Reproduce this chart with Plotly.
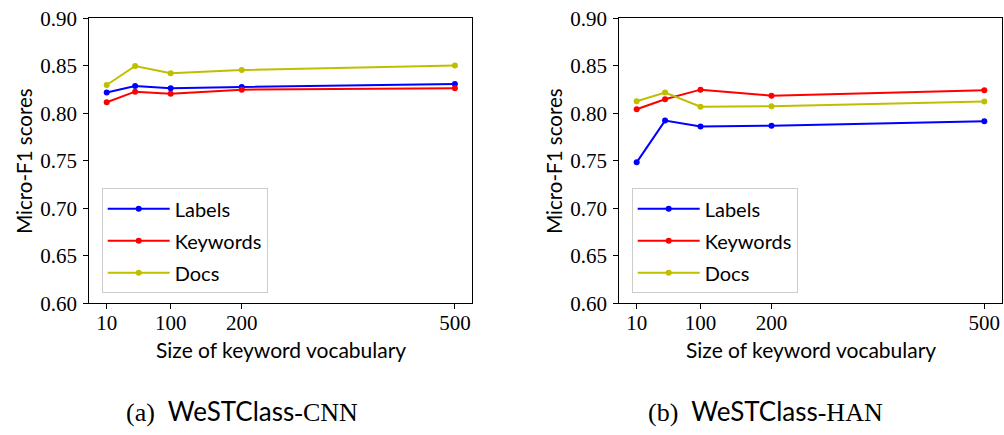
import plotly.graph_objects as go

vocab_sizes = [10, 50, 100, 200, 500]
tick_vals = [10, 100, 200, 500]
tick_text = ["10", "100", "200", "500"]
y_ticks = [0.60, 0.65, 0.70, 0.75, 0.80, 0.85, 0.90]

cnn_labels = [0.8218, 0.8288, 0.8263, 0.8277, 0.8309]
cnn_keywords = [0.8116, 0.8228, 0.8207, 0.8249, 0.8263]
cnn_docs = [0.8298, 0.8498, 0.8421, 0.8456, 0.8502]

han_labels = [0.7484, 0.7923, 0.7860, 0.7870, 0.7916]
han_keywords = [0.8042, 0.8147, 0.8249, 0.8186, 0.8242]
han_docs = [0.8126, 0.8218, 0.8070, 0.8074, 0.8123]

series_names = ["Labels", "Keywords", "Docs"]
colors = ["#0000ff", "#ff0000", "#bfbf00"]

W, H = 1004, 435
SERIF = "Liberation Serif"
SANS = "Lato"

fig = go.Figure()

panels = [
    ([cnn_labels, cnn_keywords, cnn_docs], "x", "y", "legend"),
    ([han_labels, han_keywords, han_docs], "x2", "y2", "legend2"),
]
for data, xa, ya, lg in panels:
    for name, vals, col in zip(series_names, data, colors):
        fig.add_trace(go.Scatter(
            x=vocab_sizes, y=vals, name=name, mode="lines+markers",
            line=dict(color=col, width=2), marker=dict(color=col, size=6),
            xaxis=xa, yaxis=ya, legend=lg, legendgroup=lg + name,
        ))

ydom = [1 - 303.3 / H, 1 - 18.3 / H]
xdoms = [[89.3 / W, 472.3 / W], [619.3 / W, 1001.7 / W]]

axis_common = dict(
    showline=True, linecolor="black", linewidth=1.2, mirror=True,
    showgrid=False, zeroline=False, ticks="outside", ticklen=5,
    tickwidth=1.2, tickcolor="black", automargin=False,
    tickfont=dict(family=SERIF, size=21, color="black"),
)

layout = dict(
    width=W, height=H, margin=dict(l=0, r=0, t=0, b=0, autoexpand=False),
    plot_bgcolor="white", paper_bgcolor="white", showlegend=True,
)
for i, xd in enumerate(xdoms):
    sfx = "" if i == 0 else "2"
    layout["xaxis" + sfx] = dict(
        axis_common, domain=xd, range=[-14.5, 524.5],
        tickvals=tick_vals, ticktext=tick_text, anchor="y" + sfx,
        ticklabelstandoff=-5,
    )
    layout["yaxis" + sfx] = dict(
        axis_common, domain=ydom, range=[0.60, 0.90],
        tickvals=y_ticks, ticktext=[f"{v:.2f}" for v in y_ticks],
        anchor="x" + sfx, ticklabelstandoff=2,
    )
    layout["legend" + sfx] = dict(
        x=(xd[0] * W + 12.4) / W, y=1 - 188.3 / H, xanchor="left", yanchor="top",
        bgcolor="rgba(255,255,255,0.8)", bordercolor="#cccccc", borderwidth=1,
        font=dict(family=SANS, size=20, color="black"), tracegroupgap=3,
        itemwidth=62,
    )

fig.update_layout(**layout)

for i, xd in enumerate(xdoms):
    cx = (xd[0] + xd[1]) / 2
    fig.add_annotation(
        x=cx, y=1 - 349 / H, xref="paper", yref="paper", showarrow=False,
        xanchor="center", yanchor="middle",
        text="Size of keyword vocabulary",
        font=dict(family=SANS, size=21, color="black"),
    )
    fig.add_annotation(
        x=(24 if i == 0 else 554) / W, y=(ydom[0] + ydom[1]) / 2,
        xref="paper", yref="paper", showarrow=False, textangle=-90,
        xanchor="center", yanchor="middle",
        text="Micro-F1 scores",
        font=dict(family=SANS, size=20.5, color="black"),
    )

captions = [("(a)", "CNN", 242), ("(b)", "HAN", 765)]
for lab, model, cx in captions:
    fig.add_annotation(
        x=cx / W, y=1 - 411 / H, xref="paper", yref="paper", showarrow=False,
        xanchor="center", yanchor="middle",
        text=(f"<span style='font-family:{SERIF}'>{lab}</span>&nbsp;&nbsp;"
              f"<span style='font-family:{SANS}'>WeSTClass</span>"
              f"<span style='font-family:{SERIF}'>-{model}</span>"),
        font=dict(family=SERIF, size=26, color="black"),
    )

fig.write_html("out.html")
